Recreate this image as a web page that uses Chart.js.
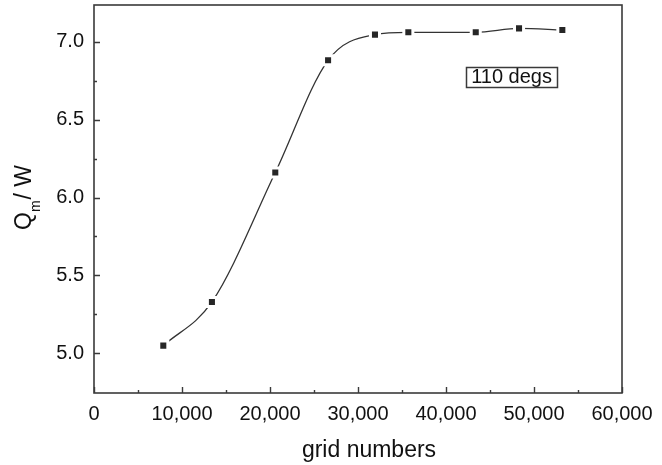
<!DOCTYPE html>
<html>
<head>
<meta charset="utf-8">
<script src="https://cdn.jsdelivr.net/npm/chart.js@4.4.1/dist/chart.umd.min.js"></script>
<style>
  html, body { margin: 0; padding: 0; background: #fff; }
  #wrap { width: 662px; height: 465px; }
</style>
</head>
<body>
<div id="wrap"><canvas id="qm-chart" width="662" height="465"></canvas></div>
<script>
// Q_m against mesh size, 110 degs case
var gridNumbers = [7875, 13400, 20600, 26600, 31930, 35720, 43380, 48300, 53220];
var qmValues = [5.05, 5.33, 6.16, 6.88, 7.045, 7.06, 7.06, 7.085, 7.075];

var xTicks = [0, 10000, 20000, 30000, 40000, 50000, 60000];
var xTickLabels = ["0", "10,000", "20,000", "30,000", "40,000", "50,000", "60,000"];
var xMinorTicks = [5000, 15000, 25000, 35000, 45000, 55000];
var yTicks = [5.0, 5.5, 6.0, 6.5, 7.0];
var yTickLabels = ["5.0", "5.5", "6.0", "6.5", "7.0"];
var yMinorTicks = [5.25, 5.75, 6.25, 6.75];

var FONT = "'Liberation Sans', Arial, Helvetica, sans-serif";
var INK = "#3a3a3a";

// frame, inward tick marks, axis titles and the "110 degs" tag
var frameAndTitles = {
  id: "frameAndTitles",
  beforeDatasetsDraw: function(chart) {
    var ctx = chart.ctx, a = chart.chartArea;
    var xs = chart.scales.x, ys = chart.scales.y;
    ctx.save();
    ctx.strokeStyle = INK;
    ctx.lineWidth = 1.6;
    ctx.strokeRect(a.left, a.top, a.right - a.left, a.bottom - a.top);
    ctx.lineWidth = 1.4;
    ctx.beginPath();
    xTicks.forEach(function(v) {
      var px = Math.round(xs.getPixelForValue(v)) + 0.5;
      ctx.moveTo(px, a.bottom); ctx.lineTo(px, a.bottom - 6);
    });
    xMinorTicks.forEach(function(v) {
      var px = Math.round(xs.getPixelForValue(v)) + 0.5;
      ctx.moveTo(px, a.bottom); ctx.lineTo(px, a.bottom - 3);
    });
    yTicks.forEach(function(v) {
      var py = Math.round(ys.getPixelForValue(v)) + 0.5;
      ctx.moveTo(a.left, py); ctx.lineTo(a.left + 6, py);
    });
    yMinorTicks.forEach(function(v) {
      var py = Math.round(ys.getPixelForValue(v)) + 0.5;
      ctx.moveTo(a.left, py); ctx.lineTo(a.left + 3, py);
    });
    ctx.stroke();
    ctx.restore();
  },
  afterDraw: function(chart) {
    var ctx = chart.ctx;
    var xs = chart.scales.x, ys = chart.scales.y;
    ctx.save();
    ctx.fillStyle = "#111";

    // x title
    ctx.font = "23px " + FONT;
    ctx.textAlign = "center";
    ctx.textBaseline = "alphabetic";
    ctx.fillText("grid numbers", 369, 457);

    // y title: Q with subscript m, rotated
    ctx.save();
    ctx.translate(31, 230);
    ctx.rotate(-Math.PI / 2);
    ctx.textAlign = "left";
    ctx.font = "23px " + FONT;
    ctx.fillText("Q", 0, 0);
    var wq = ctx.measureText("Q").width;
    ctx.font = "14px " + FONT;
    ctx.fillText("m", wq, 9);
    var wm = ctx.measureText("m").width;
    ctx.font = "23px " + FONT;
    ctx.fillText("/ W", wq + wm + 1, 0);
    ctx.restore();

    // boxed tag
    var cx = xs.getPixelForValue(47450), cy = ys.getPixelForValue(6.774);
    ctx.font = "20px " + FONT;
    ctx.textAlign = "center";
    ctx.textBaseline = "middle";
    var tw = ctx.measureText("110 degs").width;
    ctx.fillText("110 degs", cx, cy + 1);
    ctx.strokeStyle = INK;
    ctx.lineWidth = 1.5;
    ctx.strokeRect(Math.round(cx - tw / 2 - 5) + 0.5, Math.round(cy - 10) + 0.5, Math.round(tw + 10), 20);
    ctx.restore();
  }
};

var ctx = document.getElementById("qm-chart").getContext("2d");
var chart = new Chart(ctx, {
  type: "line",
  data: {
    datasets: [{
      label: "110 degs",
      data: gridNumbers.map(function(x, i) { return { x: x, y: qmValues[i] }; }),
      borderColor: "#333",
      borderWidth: 1.3,
      cubicInterpolationMode: "monotone",
      pointStyle: "rect",
      pointRadius: 6.4,
      pointBackgroundColor: "#262626",
      pointBorderColor: "#fff",
      pointBorderWidth: 3,
      fill: false
    }]
  },
  options: {
    responsive: false,
    animation: false,
    layout: { autoPadding: false, padding: { top: 5, right: 40, left: 0, bottom: 0 } },
    plugins: {
      legend: { display: false },
      tooltip: { enabled: false }
    },
    scales: {
      x: {
        type: "linear",
        min: 0,
        max: 60000,
        afterFit: function(s) { s.height = 72; s.paddingLeft = 0; s.paddingRight = 0; },
        afterBuildTicks: function(s) { s.ticks = xTicks.map(function(v) { return { value: v }; }); },
        grid: { display: false, drawTicks: false },
        border: { display: false },
        ticks: {
          padding: 9,
          maxRotation: 0,
          autoSkip: false,
          color: "#111",
          font: { family: FONT, size: 20 },
          callback: function(v, i) { return xTickLabels[i]; }
        }
      },
      y: {
        type: "linear",
        min: 4.746,
        max: 7.235,
        afterFit: function(s) { s.width = 94; s.paddingTop = 0; s.paddingBottom = 0; },
        afterBuildTicks: function(s) { s.ticks = yTicks.map(function(v) { return { value: v }; }); },
        grid: { display: false, drawTicks: false },
        border: { display: false },
        ticks: {
          padding: 10,
          color: "#111",
          font: { family: FONT, size: 20 },
          callback: function(v, i) { return yTickLabels[i]; }
        }
      }
    }
  },
  plugins: [frameAndTitles]
});
</script>
</body>
</html>
